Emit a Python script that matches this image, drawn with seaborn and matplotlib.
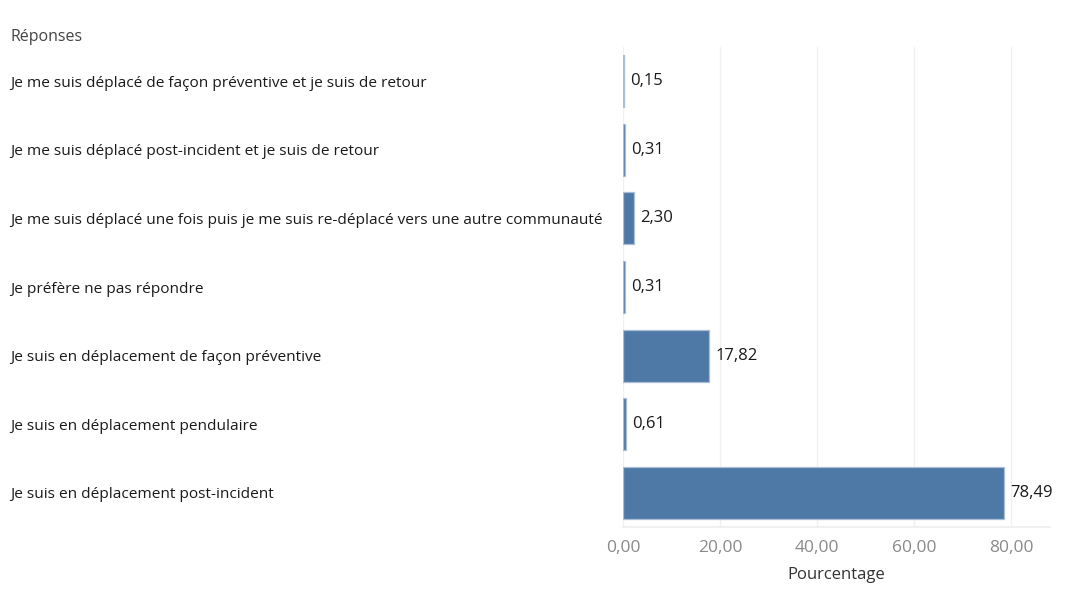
import matplotlib
matplotlib.use("Agg")
import matplotlib.pyplot as plt
import seaborn as sns
import pandas as pd

reponses = [
    "Je me suis déplacé de façon préventive et je suis de retour",
    "Je me suis déplacé post-incident et je suis de retour",
    "Je me suis déplacé une fois puis je me suis re-déplacé vers une autre communauté",
    "Je préfère ne pas répondre",
    "Je suis en déplacement de façon préventive",
    "Je suis en déplacement pendulaire",
    "Je suis en déplacement post-incident",
]
pourcentages = [0.15, 0.31, 2.30, 0.31, 17.82, 0.61, 78.49]
x_ticks = [0, 20, 40, 60, 80]

df = pd.DataFrame({"Réponses": reponses, "Pourcentage": pourcentages})

sns.set_theme(style="white")
plt.rcParams["font.family"] = ["Open Sans", "DejaVu Sans"]

W, H = 1068, 607
fig = plt.figure(figsize=(W / 100, H / 100), dpi=100)
ax = fig.add_axes([623 / W, 1 - 527 / H, (1050 - 623) / W, (527 - 47) / H])

bar_color = "#4e79a7"
sns.barplot(data=df, y="Réponses", x="Pourcentage", orient="h",
            color=bar_color, saturation=1, width=0.76, ax=ax,
            edgecolor="#a9bdd6", linewidth=0.9)

ax.set_xlim(0, 88)
ax.set_xticks(x_ticks)
ax.set_xticklabels([f"{v:.2f}".replace(".", ",") for v in x_ticks],
                   color="#8a8a8a", fontsize=12.5)
ax.xaxis.grid(True, color="#f0f0f0", linewidth=1)
ax.set_axisbelow(True)
ax.tick_params(axis="x", length=0, pad=9)

# Category labels left-aligned at the left margin
ax.tick_params(axis="y", length=0, pad=613 * 72 / 100)
for lab in ax.get_yticklabels():
    lab.set_ha("left")
    lab.set_fontsize(11.1)
    lab.set_color("#1a1a1a")

ax.set_ylabel("")
ax.set_xlabel("Pourcentage", fontsize=12, color="#333333", labelpad=8)

for i, v in enumerate(pourcentages):
    ax.annotate(f"{v:.2f}".replace(".", ","), xy=(v, i),
                xytext=(4.5, 0), textcoords="offset points",
                va="center", ha="left", fontsize=12, color="#1a1a1a")

for s in ["top", "right", "left"]:
    ax.spines[s].set_visible(False)
ax.spines["bottom"].set_color("#eeeeee")

fig.text(10 / W, 1 - 37 / H, "Réponses", fontsize=11.5, color="#444444",
         va="center", ha="left")

fig.savefig("out.png", dpi=100)
